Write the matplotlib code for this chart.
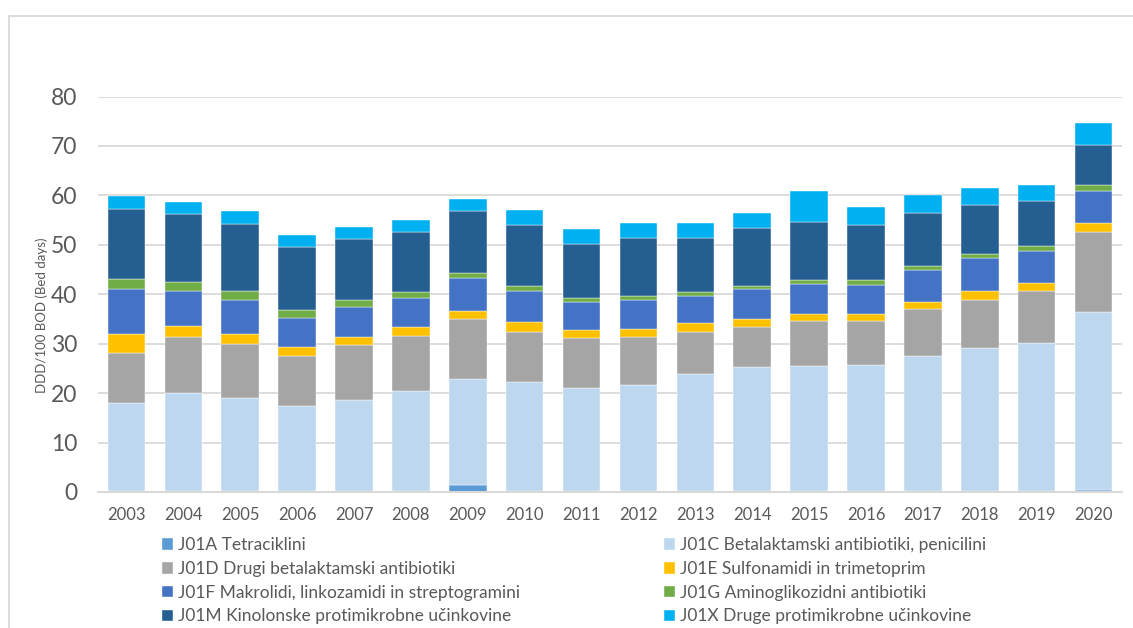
import numpy as np
import matplotlib.pyplot as plt
from matplotlib.lines import Line2D

plt.rcParams['font.family'] = ['Lato', 'DejaVu Sans']

years = [str(y) for y in range(2003, 2021)]

# stacked segment values (DDD/100 BOD)
j01a = [0.1, 0.1, 0.1, 0.1, 0.1, 0.1, 1.5, 0.1, 0.1, 0.1, 0.1, 0.1, 0.1, 0.1, 0.1, 0.2, 0.2, 0.3]
j01c = [18.0, 20.0, 18.9, 17.3, 18.5, 20.3, 21.4, 22.2, 21.0, 21.6, 23.8, 25.1, 25.4, 25.6, 27.4, 29.0, 30.0, 36.1]
j01d = [10.1, 11.3, 11.0, 10.2, 11.1, 11.1, 12.0, 10.1, 10.1, 9.6, 8.5, 8.2, 9.0, 8.8, 9.5, 9.7, 10.4, 16.2]
j01e = [3.8, 2.2, 1.9, 1.7, 1.7, 1.9, 1.8, 1.9, 1.6, 1.7, 1.7, 1.5, 1.6, 1.5, 1.4, 1.7, 1.7, 1.8]
j01f = [9.0, 7.0, 7.0, 5.8, 6.1, 5.9, 6.5, 6.4, 5.7, 5.9, 5.6, 6.1, 6.0, 5.9, 6.6, 6.8, 6.5, 6.5]
j01g = [2.1, 1.9, 1.7, 1.7, 1.3, 1.1, 1.1, 0.9, 0.7, 0.7, 0.7, 0.7, 0.8, 1.0, 0.7, 0.7, 1.0, 1.2]
j01m = [14.2, 13.8, 13.7, 12.7, 12.3, 12.2, 12.5, 12.4, 10.9, 11.8, 11.0, 11.7, 11.7, 11.1, 10.8, 10.0, 9.1, 8.1]
j01x = [2.6, 2.4, 2.5, 2.4, 2.5, 2.4, 2.4, 3.1, 3.1, 3.1, 3.0, 3.1, 6.2, 3.6, 3.5, 3.3, 3.3, 4.5]

series = [
    ('J01A Tetraciklini', j01a, '#5B9BD5'),
    ('J01C Betalaktamski antibiotiki, penicilini', j01c, '#BDD7EE'),
    ('J01D Drugi betalaktamski antibiotiki', j01d, '#A5A5A5'),
    ('J01E Sulfonamidi in trimetoprim', j01e, '#FFC000'),
    ('J01F Makrolidi, linkozamidi in streptogramini', j01f, '#4472C4'),
    ('J01G Aminoglikozidni antibiotiki', j01g, '#70AD47'),
    ('J01M Kinolonske protimikrobne učinkovine', j01m, '#255E91'),
    ('J01X Druge protimikrobne učinkovine', j01x, '#00B0F0'),
]

fig = plt.figure(figsize=(11.33, 6.28), dpi=100)
ax = fig.add_axes([0.0865, 0.2166, 0.9038, 0.6297])

x = np.arange(len(years))
bottom = np.zeros(len(years))
handles = []
for label, vals, color in series:
    b = ax.bar(x, vals, 0.66, bottom=bottom, color=color, label=label,
               edgecolor='white', linewidth=0.3, zorder=3)
    bottom += np.array(vals)
    handles.append(b)

ax.set_xlim(-0.5, len(years) - 0.5)
ax.set_ylim(0, 80)
ax.set_yticks(range(0, 81, 10))
ax.set_xticks(x)
ax.set_xticklabels(years)
ax.grid(axis='y', color='#D9D9D9', linewidth=1.3, zorder=0)
for s in ['top', 'right', 'left']:
    ax.spines[s].set_visible(False)
ax.spines['bottom'].set_color('#D9D9D9')
ax.spines['bottom'].set_linewidth(1.5)
ax.spines['bottom'].set_zorder(4)
ax.tick_params(axis='y', length=0, labelsize=16.5, labelcolor='#595959', pad=15)
ax.tick_params(axis='x', length=0, labelsize=12, labelcolor='#595959', pad=11)

fig.text(0.037, 1 - 315 / 628, 'DDD/100 BOD (Bed days)', rotation=90,
         ha='center', va='center', fontsize=9.5, color='#595959')

# legend in two columns, row-major like the original
left = [handles[i] for i in (0, 2, 4, 6)]
right = [handles[i] for i in (1, 3, 5, 7)]
kw = dict(frameon=False, fontsize=12.5, labelcolor='#595959',
          handlelength=0.65, handleheight=0.65, handletextpad=0.3,
          labelspacing=0.45, borderaxespad=0, borderpad=0, loc='upper left')
fig.legend(left, [h.get_label() for h in left],
           bbox_to_anchor=(162 / 1133, 1 - 537 / 628), **kw)
fig.legend(right, [h.get_label() for h in right],
           bbox_to_anchor=(664 / 1133, 1 - 537 / 628), **kw)

# chart border
fig.add_artist(Line2D([9 / 1133, 9 / 1133], [0, 1 - 16 / 628],
                      transform=fig.transFigure, color='#D9D9D9', linewidth=1.3))
fig.add_artist(Line2D([9 / 1133, 1], [1 - 16 / 628, 1 - 16 / 628],
                      transform=fig.transFigure, color='#D9D9D9', linewidth=1.3))

fig.savefig('out.png', dpi=100)
